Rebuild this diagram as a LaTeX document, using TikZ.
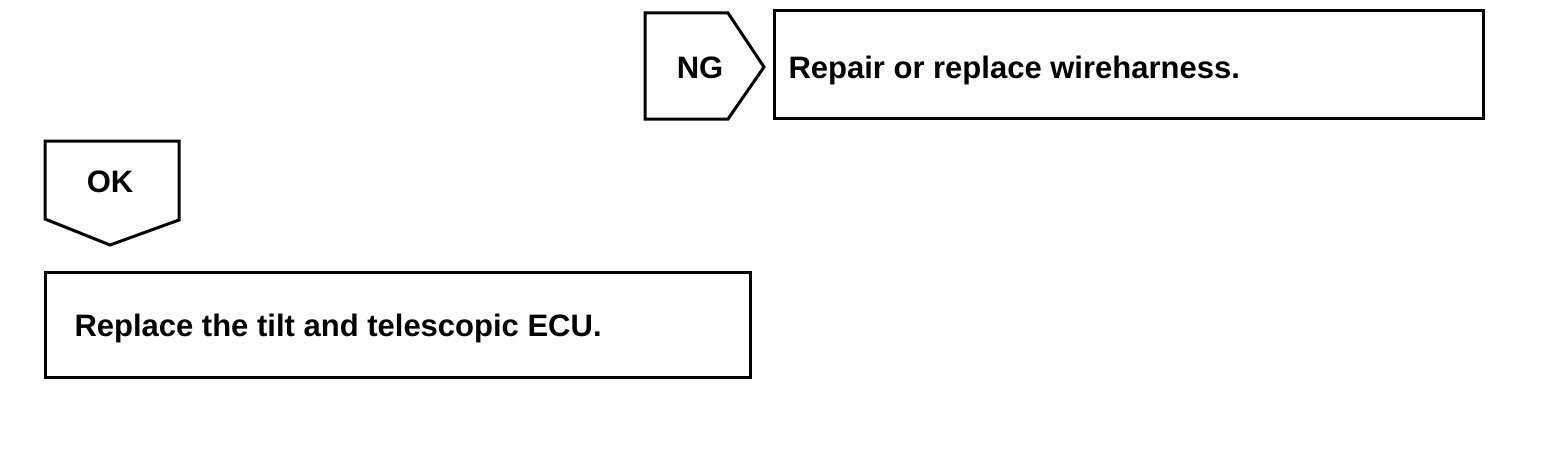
\documentclass[tikz,border=0pt]{standalone}
\usepackage{fontspec}
\setmainfont{Liberation Sans}
\usepackage{tikz}

\begin{document}
\begin{tikzpicture}[x=1pt,y=-1pt,line width=3pt,line join=miter,
    label/.style={font=\fontsize{31}{37}\selectfont\bfseries,inner sep=0pt}]
    \useasboundingbox (0,0) rectangle (1568,460);

    % NG branch
    \draw (645,13) -- (728,13) -- (764,67) -- (728,119) -- (645,119) -- cycle;
    \node[label,anchor=base] (ng) at (700,78) {NG};

    \draw (774,11) rectangle (1483,118);
    \node[label,anchor=base west] (repair) at (787,78) {Repair or replace wireharness.};

    % OK branch
    \draw (45,141) -- (179,141) -- (179,220) -- (110,245) -- (45,219) -- cycle;
    \node[label,anchor=base] (ok) at (110,192) {OK};

    \draw (45,272) rectangle (750,377);
    \node[label,anchor=base west] (replace) at (73,336) {Replace the tilt and telescopic ECU.};
\end{tikzpicture}
\end{document}
